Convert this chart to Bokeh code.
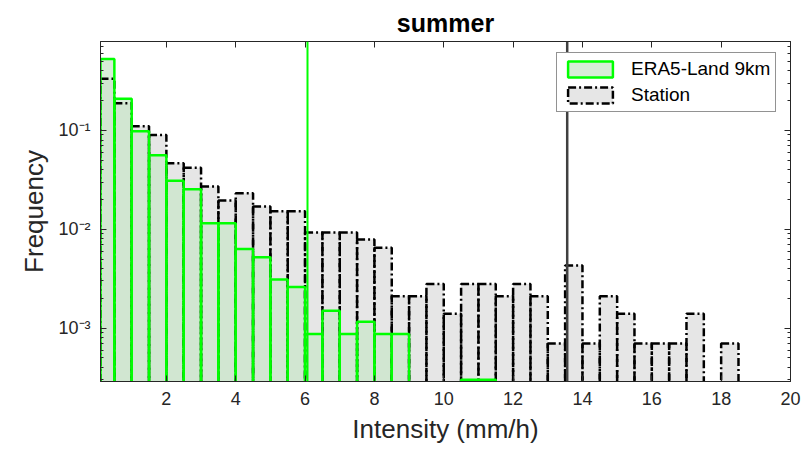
from bokeh.plotting import figure
from bokeh.models import (Range1d, FixedTicker, LinearAxis, LogAxis, Span,
                          Legend, LegendItem, ColumnDataSource)
from bokeh.embed import file_html
from bokeh.resources import INLINE

# ---------------- data ----------------
title_text = "summer"
x_label = "Intensity (mm/h)"
y_label = "Frequency"
series_names = ["ERA5-Land 9km", "Station"]

bin_edges = [0.1, 0.5, 1.0, 1.5, 2.0, 2.5, 3.0, 3.5, 4.0, 4.5, 5.0, 5.5, 6.0,
             6.5, 7.0, 7.5, 8.0, 8.5, 9.0, 9.5, 10.0, 10.5, 11.0, 11.5, 12.0,
             12.5, 13.0, 13.5, 14.0, 14.5, 15.0, 15.5, 16.0, 16.5, 17.0, 17.5,
             18.0, 18.5]

era5_freq = [0.53, 0.21, 0.098, 0.056, 0.031, 0.0254, 0.0115, 0.0115, 0.0063,
             0.0052, 0.0031, 0.0026, 0.00087, 0.0015, 0.00087, 0.00116,
             0.00087, 0.00087, 0, 0, 0, 0.0003, 0.0003, 0, 0, 0, 0, 0, 0, 0,
             0, 0, 0, 0, 0, 0, 0]

station_freq = [0.334, 0.189, 0.11, 0.090, 0.0467, 0.0419, 0.0271, 0.0195,
                0.0232, 0.017, 0.0152, 0.0152, 0.0093, 0.0093, 0.0093, 0.0079,
                0.0065, 0.0021, 0.0021, 0.0028, 0.0014, 0.0028, 0.0028, 0.0021,
                0.0028, 0.0021, 0.0007, 0.0043, 0.0007, 0.0021, 0.0014, 0.0007,
                0.0007, 0.0007, 0.0014, 0, 0.0007]

era5_marker = 6.07      # vertical line (ERA5-Land)
station_marker = 13.56  # vertical line (Station)

x_ticks = [2, 4, 6, 8, 10, 12, 14, 16, 18, 20]
y_ticks = [1e-3, 1e-2, 1e-1]
y_tick_labels = ["10\u207b\u00b3", "10\u207b\u00b2", "10\u207b\u00b9"]

x_min, x_max = 0.1, 20
y_min, y_max = 2.88e-4, 0.795

# ---------------- styles ----------------
FONT = "Liberation Sans"
AX_COLOR = "#262626"
GREEN = "#00ff00"


def make_source(values):
    left, right, top = [], [], []
    for i, v in enumerate(values):
        if v > 0:
            left.append(bin_edges[i])
            right.append(bin_edges[i + 1])
            top.append(v)
    return ColumnDataSource(dict(left=left, right=right, top=top,
                                 bottom=[1e-6] * len(top)))


era5_src = make_source(era5_freq)
station_src = make_source(station_freq)

p = figure(width=811, height=455, output_backend="svg", toolbar_location=None,
           y_axis_type="log",
           x_range=Range1d(x_min, x_max), y_range=Range1d(y_min, y_max),
           min_border_left=100, min_border_right=21, min_border_top=41,
           min_border_bottom=74)

p.xgrid.visible = False
p.ygrid.visible = False
p.outline_line_color = AX_COLOR
p.background_fill_color = "white"
p.border_fill_color = "white"

# fills
st_fill = p.quad(left="left", right="right", top="top", bottom="bottom",
                 source=station_src, fill_color="#e6e6e6", line_color=None)
er_fill = p.quad(left="left", right="right", top="top", bottom="bottom",
                 source=era5_src, fill_color="#c8e6c8", fill_alpha=0.7,
                 line_color=None)
# outlines
st_line = p.quad(left="left", right="right", top="top", bottom="bottom",
                 source=station_src, fill_color=None, line_color="black",
                 line_width=2.5, line_dash="8 3 2 3")
er_line = p.quad(left="left", right="right", top="top", bottom="bottom",
                 source=era5_src, fill_color=None, line_color=GREEN,
                 line_width=2.5)

p.add_layout(Span(location=era5_marker, dimension="height",
                  line_color=GREEN, line_width=2))
p.add_layout(Span(location=station_marker, dimension="height",
                  line_color="#404040", line_width=2.5))

# axes
x_ticker = FixedTicker(ticks=x_ticks, minor_ticks=[])
y_minor = [m * 10.0 ** e for e in (-4, -3, -2, -1) for m in range(2, 10)]
y_ticker = FixedTicker(ticks=y_ticks, minor_ticks=y_minor)

xa = p.xaxis[0]
xa.ticker = x_ticker
xa.axis_label = x_label
ya = p.yaxis[0]
ya.ticker = y_ticker
ya.major_label_overrides = {t: l for t, l in zip(y_ticks, y_tick_labels)}
ya.axis_label = y_label

top_axis = LinearAxis(ticker=x_ticker)
right_axis = LogAxis(ticker=y_ticker)
p.add_layout(top_axis, "above")
p.add_layout(right_axis, "right")

for ax in (xa, ya, top_axis, right_axis):
    ax.axis_line_color = AX_COLOR
    ax.major_tick_line_color = AX_COLOR
    ax.minor_tick_line_color = AX_COLOR
    ax.major_tick_in = 6
    ax.major_tick_out = 0
    ax.minor_tick_in = 3
    ax.minor_tick_out = 0
    ax.major_label_text_font = FONT
    ax.major_label_text_font_size = "18px"
    ax.major_label_text_color = AX_COLOR
    ax.axis_label_text_font = FONT
    ax.axis_label_text_font_size = "26px"
    ax.axis_label_text_font_style = "normal"
    ax.axis_label_text_color = AX_COLOR

xa.major_label_standoff = 10
xa.axis_label_standoff = 6
ya.major_label_standoff = 10
ya.axis_label_standoff = 6

# box axes: ticks only, no labels
top_axis.major_label_overrides = {t: "" for t in x_ticks}
right_axis.major_label_overrides = {t: "" for t in y_ticks}
for ax in (top_axis, right_axis):
    ax.major_label_text_font_size = "1px"
    ax.major_label_text_color = None
    ax.major_label_standoff = 0

p.title.text = title_text
p.title.text_font = FONT
p.title.text_font_size = "25px"
p.title.text_font_style = "bold"
p.title.align = "center"
p.title.text_color = "black"
p.title.standoff = 10

legend = Legend(items=[
    LegendItem(label=series_names[0], renderers=[er_fill, er_line]),
    LegendItem(label=series_names[1], renderers=[st_fill, st_line]),
], location=(456, 269))
legend.label_text_font = FONT
legend.label_text_font_size = "19px"
legend.label_text_color = "black"
legend.glyph_width = 56
legend.glyph_height = 20
legend.label_standoff = 13
legend.padding = 5
legend.spacing = 4
legend.margin = 0
legend.border_line_color = AX_COLOR
legend.border_line_width = 1
legend.background_fill_color = "white"
legend.background_fill_alpha = 1
p.add_layout(legend)

open("out.html", "w").write(file_html(p, INLINE))
